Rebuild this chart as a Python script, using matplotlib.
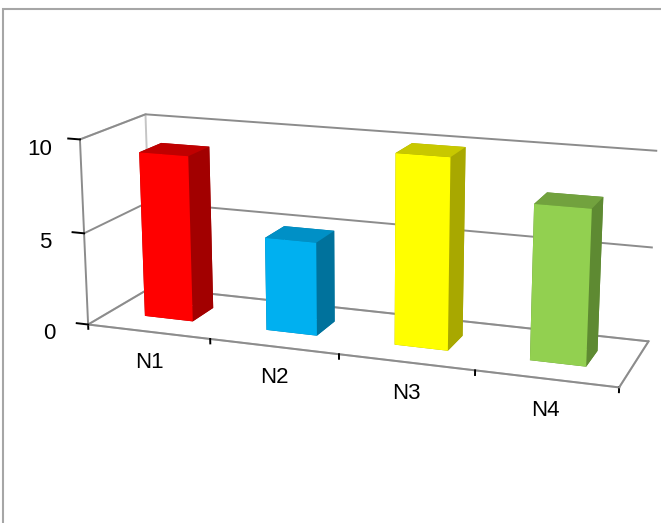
import numpy as np
import matplotlib.pyplot as plt
from matplotlib.patches import Rectangle

categories = ['N1', 'N2', 'N3', 'N4']
values = [9, 5, 10, 8]
front_colors = ['#FF0000', '#00B0F0', '#FFFF00', '#92D050']
top_colors = ['#C00000', '#0090C6', '#C8C800', '#72A23E']
side_colors = ['#A20000', '#00729C', '#A8A800', '#5E8A32']
z_ticks = [0, 5, 10]

grey = '#8C8C8C'
plt.rcParams['font.family'] = ['Liberation Sans', 'DejaVu Sans']

fig = plt.figure(figsize=(6.61, 5.23), dpi=100)
ax = fig.add_axes([0.04, 0.027, 1.0, 1.0], projection='3d')
ax.set_proj_type('persp', focal_length=0.6)
ax.view_init(elev=15, azim=-70)

n = len(categories)
xpos = np.arange(n)
bar_w = 0.4
depth = 1.0
bar_d = 0.35

# per-face colours: bottom, top, front, back, left, right
face_colors = []
for f, t, s in zip(front_colors, top_colors, side_colors):
    face_colors += [s, t, f, s, s, s]

ax.bar3d(xpos - bar_w / 2, np.full(n, (depth - bar_d) / 2), np.zeros(n),
         bar_w, bar_d, values, color=face_colors, shade=False)

ax.set_xlim(-0.5, n - 0.5)
ax.set_ylim(0, depth)
ax.set_zlim(0, 10)
ax.set_box_aspect((3.87, 1, 1.36), zoom=1.12)

ax.set_xticks(np.arange(n + 1) - 0.5)
ax.set_xticklabels([])
ax.set_yticks([])
ax.set_zticks(z_ticks)
ax.set_zticklabels([str(v) for v in z_ticks], fontsize=16)
ax.tick_params(axis='z', pad=6)
ax.zaxis.set_ticks_position('lower')
# tick marks: z ticks point left, x ticks point down
ax.zaxis._get_tickdir = lambda position: 0
ax.xaxis._get_tickdir = lambda position: 2

for axis in (ax.xaxis, ax.yaxis, ax.zaxis):
    axis.pane.fill = False
    axis.pane.set_edgecolor(grey)
    axis.pane.set_linewidth(1.4)
    axis.line.set_color(grey)
    axis.line.set_linewidth(1.4)
    axis.label.set_visible(False)
    axis.offsetText.set_visible(False)
    axis._axinfo['tick']['inward_factor'] = 0.0
    axis._axinfo['tick']['outward_factor'] = 0.3
    axis._axinfo['tick']['color'] = grey
    axis._axinfo['tick']['linewidth'] = {True: 1.4, False: 1.0}
ax.yaxis.pane.set_edgecolor('none')
ax.xaxis._axinfo['grid']['linewidth'] = 0
ax.yaxis._axinfo['grid']['linewidth'] = 0
ax.zaxis._axinfo['grid']['color'] = grey
ax.zaxis._axinfo['grid']['linewidth'] = 1.4
ax.zaxis._axinfo['grid']['linestyle'] = '-'

for x, label in zip(xpos, categories):
    ax.text(x, 0, -1.1, label, ha='center', va='top', fontsize=16)

ax.patch.set_alpha(0)

# chart frame
fig.patches.append(Rectangle((3 / 661, -0.1), 1.2, 1.1 - 10 / 523 + 0.002,
                             transform=fig.transFigure, fill=False,
                             edgecolor='#A6A6A6', linewidth=1.5))

fig.savefig('out.png', dpi=100)
